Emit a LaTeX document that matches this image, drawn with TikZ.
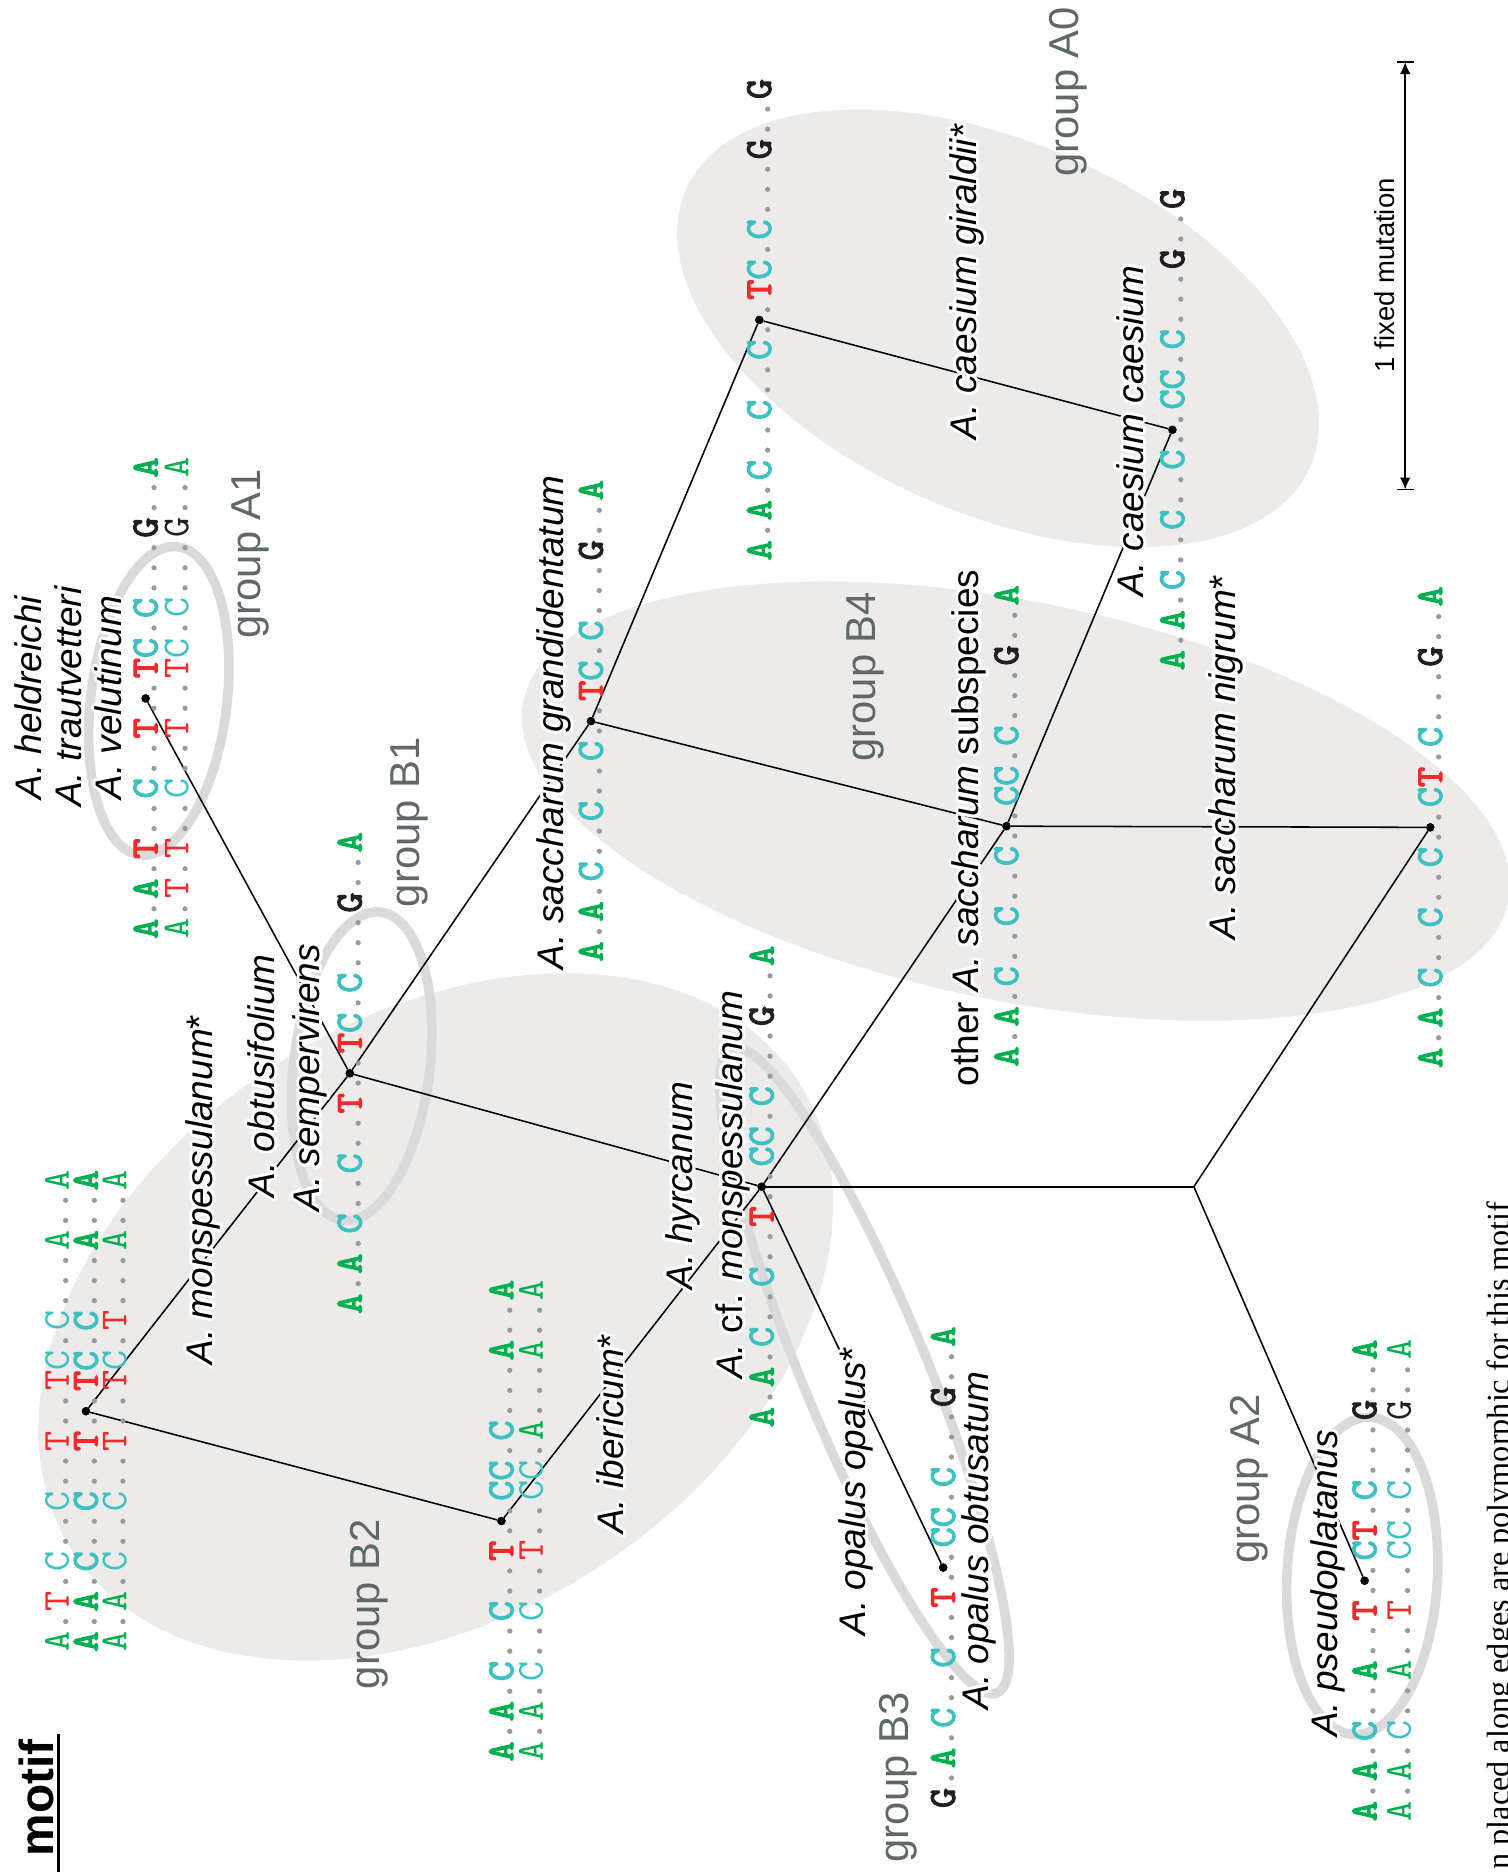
\documentclass[tikz,border=0pt]{standalone}
\usepackage{fontspec}
\setmainfont{Liberation Sans}
\newfontfamily\capserif{Liberation Serif}
\newfontfamily\seqBfam[FakeBold=3]{lmmono10-regular.otf}
\newfontfamily\seqLfam{lmmono10-regular.otf}
\usepackage{contour}
\contourlength{2.5pt}
\contournumber{16}
\usetikzlibrary{arrows.meta}
\definecolor{cA}{HTML}{00B050}
\definecolor{cC}{HTML}{3CC0C0}
\definecolor{cT}{HTML}{EE2A2A}
\definecolor{cG}{HTML}{231F20}
\definecolor{dotgray}{HTML}{9A9A9A}
\definecolor{fillgray}{HTML}{ECEBEA}
\definecolor{ringgray}{HTML}{DADADA}
\definecolor{grouptext}{HTML}{5E6869}
\newcommand\seqfontB{\seqBfam\fontsize{32}{32}\selectfont}
\newcommand\seqfontL{\seqLfam\fontsize{32}{32}\selectfont}
\newcount\seqslot
\newcommand\drawseq[4]{\def\seqX{#1}\def\seqY{#2}\def\seqS{#3}\global\seqslot=0 \seqparse#4\relax}
\def\seqparse#1{\ifx#1\relax\else\seqput{#1}\global\advance\seqslot by 1 \expandafter\seqparse\fi}
\def\seqput#1{%
  \pgfmathsetmacro\seqYY{\seqY-16.8*\the\seqslot}%
  \if#1.%
    \fill[dotgray] ({\seqX+7},\seqYY) circle[radius=2.2pt];%
  \else
    \node[seqch,text=c#1,font=\csname seqfont\seqS\endcsname] at (\seqX,\seqYY) {#1};%
  \fi}
\newcommand\hl[1]{\contour{white}{#1}}
\begin{document}
\begin{tikzpicture}[x=1pt,y=-1pt,
  lbl/.style={rotate=90, anchor=base west, inner sep=0pt, font=\fontsize{31}{31}\selectfont},
  grp/.style={rotate=90, anchor=base west, inner sep=0pt, text=grouptext, font=\fontsize{35}{35}\selectfont},
  seqch/.style={rotate=90, inner sep=0pt, text height=19.5pt, text depth=0pt, anchor=center},
  edge/.style={line width=1.3pt, black},
  treenode/.style={circle, fill=black, inner sep=0pt, minimum size=7pt},
  ring/.style={draw=ringgray, line width=8pt},
  blob/.style={fill=fillgray}]
\clip (0,0) rectangle (1263,1568);
\fill[white] (0,0) rectangle (1263,1568);
% filled group areas
\fill[blob, rotate around={-24:(836,275)}] (836,275) ellipse[x radius=286pt, y radius=155pt];
\fill[blob, rotate around={-11.5:(851,671)}] (851,671) ellipse[x radius=421pt, y radius=167pt];
\fill[blob, rotate around={33:(365,1103)}] (365,1103) ellipse[x radius=362pt, y radius=250pt];
% outlined groups
\draw[ring, rotate around={-7:(133,587)}] (133,587) ellipse[x radius=57pt, y radius=130pt];
\draw[ring, rotate around={-7:(303,893)}] (303,893) ellipse[x radius=57pt, y radius=130pt];
\draw[ring, rotate around={-3:(1141,1320)}] (1141,1320) ellipse[x radius=63pt, y radius=133pt];
\draw[ring, rotate around={-67.6:(724,1148)}] (724,1148) ellipse[x radius=292pt, y radius=52pt];
% tree nodes
\node[treenode] (nMons) at (72,1182) {};
\node[treenode] (nA1) at (122,585) {};
\node[treenode] (nB1) at (293,899) {};
\node[treenode] (nGrand) at (495,604) {};
\node[treenode] (nIber) at (420,1274) {};
\node[treenode] (nHyr) at (638,994) {};
\node[treenode] (nGir) at (636,268) {};
\node[treenode] (nCae) at (982,360) {};
\node[treenode] (nOth) at (843,692) {};
\node[treenode] (nNig) at (1198,693) {};
\node[treenode] (nOpa) at (790,1313) {};
\node[treenode] (nPse) at (1143,1324) {};
\coordinate (nX) at (1000,994);
% edges
\draw[edge] (nMons) -- (nB1);
\draw[edge] (nMons) -- (nIber);
\draw[edge] (nIber) -- (nHyr);
\draw[edge] (nB1) -- (nA1);
\draw[edge] (nB1) -- (nGrand);
\draw[edge] (nB1) -- (nHyr);
\draw[edge] (nGrand) -- (nGir);
\draw[edge] (nGrand) -- (nOth);
\draw[edge] (nGir) -- (nCae);
\draw[edge] (nCae) -- (nOth);
\draw[edge] (nOth) -- (nNig);
\draw[edge] (nOth) -- (nHyr);
\draw[edge] (nNig) -- (nX);
\draw[edge] (nHyr) -- (nX);
\draw[edge] (nX) -- (nPse);
\draw[edge] (nHyr) -- (nOpa);
% sequences
\drawseq{48}{1375}{L}{A.T.C..C..T..TC.C...A..A}
\drawseq{72}{1375}{B}{A.A.C..C..T..TC.C...A..A}
\drawseq{96}{1375}{L}{A.A.C..C..T..TC.T...A..A}
\drawseq{122}{778}{B}{A.A.T..C..T..TC.C...G..A}
\drawseq{148}{778}{L}{A.T.T..C..T..TC.C...G..A}
\drawseq{293}{1092}{B}{A.A.C..C..T..TC.C...G..A}
\drawseq{495}{797}{B}{A.A.C..C..C..TC.C...G..A}
\drawseq{420}{1467}{B}{A.A.C..C..T..CC.C...A..A}
\drawseq{445}{1467}{L}{A.A.C..C..T..CC.A...A..A}
\drawseq{638}{1187}{B}{A.A.C..C..T..CC.C...G..A}
\drawseq{636}{461}{B}{A.A.C..C..C..TC.C...G..G}
\drawseq{982}{553}{B}{A.A.C..C..C..CC.C...G..G}
\drawseq{843}{885}{B}{A.A.C..C..C..CC.C...G..A}
\drawseq{1198}{886}{B}{A.A.C..C..C..CT.C...G..A}
\drawseq{790}{1506}{B}{G.A.C..C..T..CC.C...G..A}
\drawseq{1143}{1517}{B}{A.A.C..A..T..CT.C...G..A}
\drawseq{1172}{1517}{L}{A.A.C..A..T..CC.C...G..A}
% redraw node dots on top
\foreach \n in {nMons,nA1,nB1,nGrand,nIber,nHyr,nGir,nCae,nOth,nNig,nOpa,nPse}
  \fill[black] (\n.center) circle[radius=3.5pt];
% species labels
\node[lbl] (lHeld) at (35,670) {\hl{\textit{A. heldreichi}}};
\node[lbl] (lTraut) at (68,676) {\hl{\textit{A. trautvetteri}}};
\node[lbl] (lVel) at (102,670) {\hl{\textit{A. velutinum}}};
\node[lbl] (lMons) at (178,1143) {\hl{\textit{A. monspessulanum}*}};
\node[lbl] (lObt) at (230,1003) {\hl{\textit{A. obtusifolium}}};
\node[lbl] (lSemp) at (268,1015) {\hl{\textit{A. sempervirens}}};
\node[lbl] (lGrand) at (472,812) {\hl{\textit{A. saccharum grandidentatum}}};
\node[lbl] (lIber) at (522,1285) {\hl{\textit{A. ibericum}*}};
\node[lbl] (lHyr) at (580,1080) {\hl{\textit{A. hyrcanum}}};
\node[lbl] (lCf) at (622,1155) {\hl{\textit{A.} cf. \textit{monspessulanum}}};
\node[lbl] (lOpOp) at (725,1370) {\hl{\textit{A. opalus opalus}*}};
\node[lbl] (lOpOb) at (828,1432) {\hl{\textit{A. opalus obtusatum}}};
\node[lbl] (lOth) at (820,910) {\hl{other \textit{A. saccharum} subspecies}};
\node[lbl] (lNig) at (1035,787) {\hl{\textit{A. saccharum nigrum}*}};
\node[lbl] (lGir) at (818,368) {\hl{\textit{A. caesium giraldii}*}};
\node[lbl] (lCae) at (958,500) {\hl{\textit{A. caesium caesium}}};
\node[lbl] (lPse) at (1120,1455) {\hl{\textit{A. pseudoplatanus}}};
% group labels
\node[grp] (gA0) at (903,148) {group A0};
\node[grp] (gA1) at (218,535) {group A1};
\node[grp] (gB1) at (351,760) {group B1};
\node[grp] (gB2) at (318,1415) {group B2};
\node[grp] (gB4) at (733,638) {group B4};
\node[grp] (gB3) at (761,1560) {group B3};
\node[grp] (gA2) at (1055,1310) {group A2};
% scale bar
\coordinate (sbT) at (1177,52);
\coordinate (sbB) at (1177,410);
\draw[line width=1.3pt, {Latex[length=10pt,width=9pt]}-{Latex[length=10pt,width=9pt]}] (sbT) -- (sbB);
\draw[line width=1.6pt] ([xshift=-7pt]sbT) -- ([xshift=7pt]sbT);
\draw[line width=1.6pt] ([xshift=-7pt]sbB) -- ([xshift=7pt]sbB);
\node[rotate=90, anchor=base west, inner sep=0pt, font=\fontsize{23}{23}\selectfont] (sbl) at (1168,312) {1 fixed mutation};
% title and caption (cut by the frame)
\node[rotate=90, anchor=base west, inner sep=0pt, font=\bfseries\fontsize{40}{40}\selectfont] (title) at (45,1555) {motif};
\draw[line width=2.5pt] (49,1452) -- (49,1570);
\node[rotate=90, anchor=base west, inner sep=0pt, font=\capserif\fontsize{27}{27}\selectfont] (cap) at (1264,1566) {n placed along edges are polymorphic for this motif};
\end{tikzpicture}
\end{document}
